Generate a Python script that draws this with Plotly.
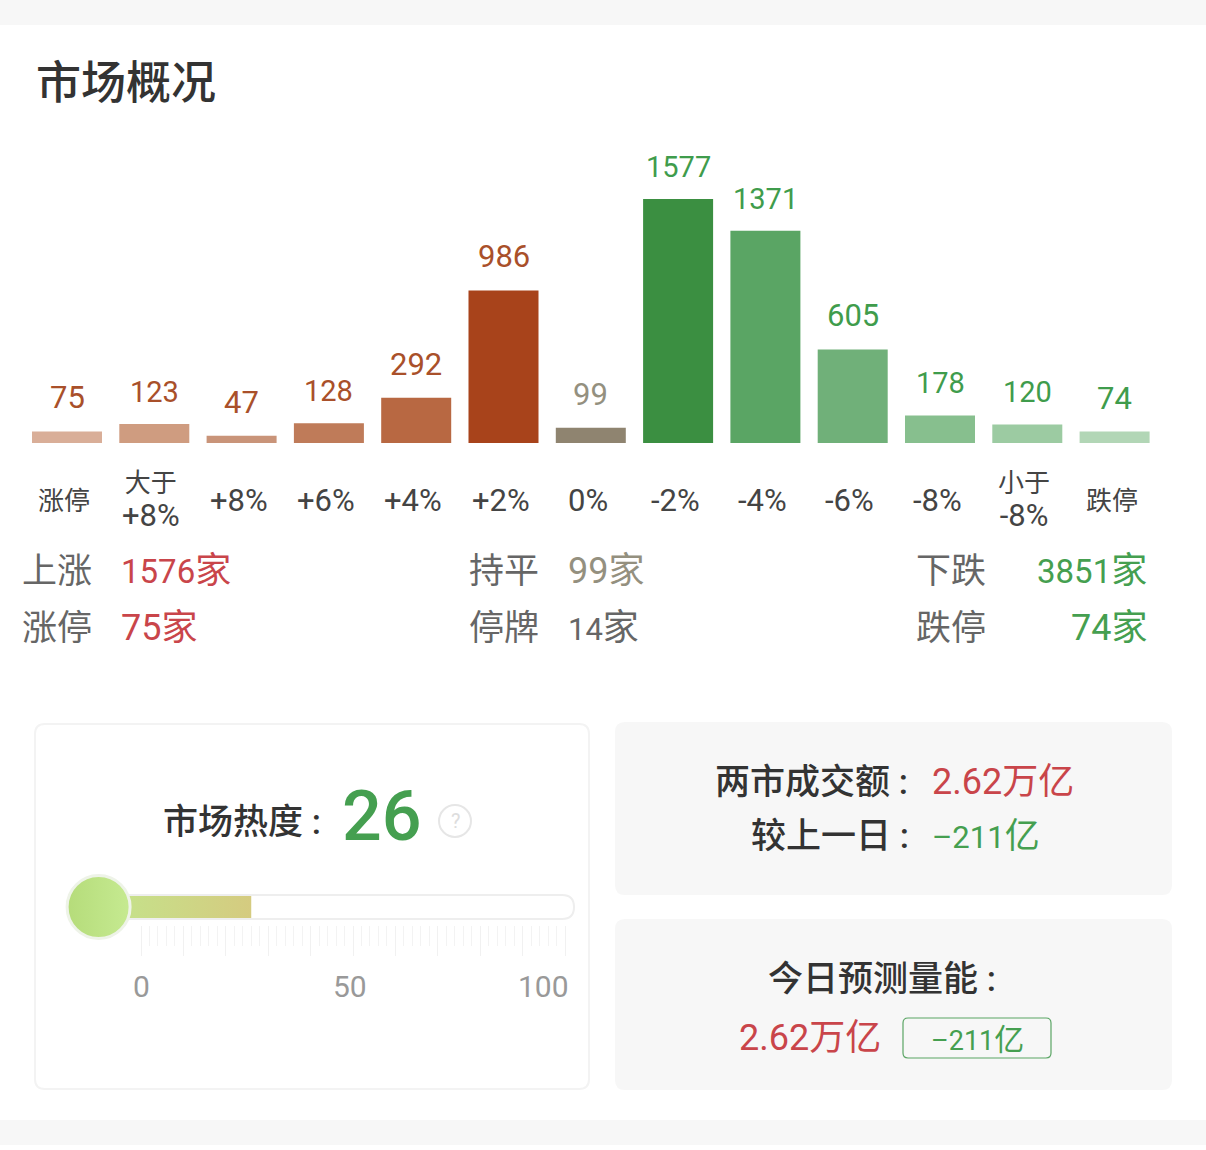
import plotly.graph_objects as go

W, H = 1206, 1150
FONT = "Roboto, 'Noto Sans CJK SC', sans-serif"

categories = ["涨停", "大于<br>+8%", "+8%", "+6%", "+4%", "+2%", "0%", "-2%", "-4%", "-6%", "-8%", "小于<br>-8%", "跌停"]
counts = [75, 123, 47, 128, 292, 986, 99, 1577, 1371, 605, 178, 120, 74]
bar_colors = ["#d9ae98", "#cf9c80", "#c99479", "#bf7b59", "#b86842", "#a8431b", "#8f8470",
              "#3b8f41", "#5aa564", "#70b079", "#87bf8e", "#9ccba2", "#b2d6b6"]
label_colors = ["#a9502a"] * 6 + ["#94907f"] + ["#3f9c4c"] * 6
heat_value = 26
heat_ticks = list(range(0, 101, 10))
heat_minor = list(range(0, 101, 2))

RED = "#c9454a"
GREEN = "#459f50"
DARK = "#333333"
GREY = "#666666"


def px(x):
    return x / W


def py(y):
    return 1 - y / H


def sized(text, size):
    return f'<span style="font-size:{size}px">{text}</span>'


def tick_html(label):
    parts = label.split("<br>")
    return "<br>".join(sized(p, 31) if p[0] in "+-0123456789" else p for p in parts)


def txt(x, y, text, size, color, anchor="left", weight=None):
    font = dict(family=FONT, size=size, color=color)
    if weight:
        font["weight"] = weight
    return dict(x=px(x), y=py(y), xref="paper", yref="paper", text=text, showarrow=False,
                xanchor=anchor, yanchor="middle", font=font, align="center")


def rrect(x0, y0, x1, y1, r, fill, line=None, lw=1):
    X0, X1, Y0, Y1 = px(x0), px(x1), py(y0), py(y1)
    rx, ry = r / W, r / H
    path = (f"M {X0+rx} {Y0} L {X1-rx} {Y0} Q {X1} {Y0} {X1} {Y0-ry} L {X1} {Y1+ry} Q {X1} {Y1} {X1-rx} {Y1} "
            f"L {X0+rx} {Y1} Q {X0} {Y1} {X0} {Y1+ry} L {X0} {Y0-ry} Q {X0} {Y0} {X0+rx} {Y0} Z")
    return dict(type="path", path=path, xref="paper", yref="paper", fillcolor=fill,
                line=dict(color=line if line else fill, width=lw if line else 0), layer="below")


fig = go.Figure()

fig.add_trace(go.Bar(x=categories, y=counts, marker=dict(color=bar_colors, line=dict(width=0)),
                     xaxis="x", yaxis="y", hoverinfo="skip", cliponaxis=False))

fig.add_trace(go.Scatter(x=[-10, heat_value, heat_value, -10, -10], y=[0, 0, 1, 1, 0], mode="lines",
                         line=dict(width=0), fill="toself",
                         fillgradient=dict(type="horizontal", colorscale=[[0, "#c3e58c"], [1, "#d5cb80"]]),
                         xaxis="x2", yaxis="y2", hoverinfo="skip"))
fig.add_trace(go.Scatter(x=[-10], y=[0.5], mode="markers", cliponaxis=False,
                         marker=dict(size=63, color="#b5dc7a", gradient=dict(type="horizontal", color="#c6ea91"),
                                     line=dict(color="#eef3e8", width=3)),
                         xaxis="x2", yaxis="y2", hoverinfo="skip"))

shapes = [
    dict(type="rect", xref="paper", yref="paper", x0=0, x1=1, y0=py(25), y1=1, fillcolor="#f7f7f7", line_width=0, layer="below"),
    dict(type="rect", xref="paper", yref="paper", x0=0, x1=1, y0=py(1145), y1=py(1120), fillcolor="#f7f7f7", line_width=0, layer="below"),
    rrect(35, 724, 589, 1089, 10, "#ffffff", "#f3f3f3", 2),
    rrect(615, 722, 1172, 895, 10, "#f7f7f7"),
    rrect(615, 919, 1172, 1090, 10, "#f7f7f7"),
    rrect(903, 1018, 1051, 1058, 5, "rgba(0,0,0,0)", "#5aa564", 1.2),
    rrect(110, 895, 574, 919, 12, "#ffffff", "#eeeeee", 2),
    dict(type="circle", xref="paper", yref="paper", x0=px(439), x1=px(471), y0=py(837), y1=py(805),
         fillcolor="rgba(0,0,0,0)", line=dict(color="#e6e6e6", width=2), layer="below"),
]

annotations = [txt(34, 84, "市场概况", 45, DARK, weight=500)]

for c, v, col in zip(categories, counts, label_colors):
    annotations.append(dict(x=c, y=v, xref="x", yref="y", text=str(v), showarrow=False, yanchor="bottom",
                            yshift=13, font=dict(family=FONT, size=29 if "1" in str(v) else 31, color=col)))
    annotations.append(dict(x=c, y=py(501), xref="x", yref="paper", text=tick_html(c), showarrow=False,
                            yanchor="middle", xshift=-3, align="center",
                            font=dict(family=FONT, size=26, color="#444444")))

annotations += [
    txt(20, 571, "上涨", 35, GREY), txt(119, 571, sized("1576", 33) + "家", 36, RED),
    txt(20, 628, "涨停", 35, GREY), txt(119, 628, "75家", 36, RED),
    txt(467, 571, "持平", 35, GREY), txt(566, 571, "99家", 36, "#94907f"),
    txt(467, 628, "停牌", 35, GREY), txt(566, 628, sized("14", 31) + "家", 36, GREY),
    txt(914, 571, "下跌", 35, GREY), txt(1149, 571, sized("3851", 33) + "家", 36, GREEN, "right"),
    txt(914, 628, "跌停", 35, GREY), txt(1149, 628, "74家", 36, GREEN, "right"),
    txt(161, 822, "市场热度 :", 35, DARK, weight=500),
    txt(382, 816, str(heat_value), 70, GREEN, "center", weight=500),
    txt(455, 821, "?", 20, "#dddddd", "center"),
    txt(713, 782, "两市成交额 :", 35, DARK, weight=500),
    txt(930, 782, "2.62万亿", 36, RED),
    txt(749, 836, "较上一日 :", 35, DARK, weight=500),
    txt(930, 836, sized("–211", 31) + "亿", 35, GREEN),
    txt(766, 979, "今日预测量能 :", 35, DARK, weight=500),
    txt(737, 1038, "2.62万亿", 36, RED),
    txt(977, 1039, sized("–211", 27) + "亿", 30, GREEN, "center"),
]
for v, anchor, shift in [(0, "center", 0), (50, "center", -3), (100, "right", 6)]:
    annotations.append(dict(x=v, y=py(986), xref="x2", yref="paper", text=str(v), showarrow=False,
                            xanchor=anchor, yanchor="middle", xshift=shift,
                            font=dict(family=FONT, size=30, color="#999999")))

fig.update_layout(
    width=W, height=H, margin=dict(l=0, r=0, t=0, b=0, pad=0, autoexpand=False),
    paper_bgcolor="#ffffff", plot_bgcolor="rgba(0,0,0,0)", showlegend=False,
    bargap=1 - 70 / 87.3, font=dict(family=FONT), shapes=shapes, annotations=annotations,
    xaxis=dict(domain=[px(23.35), px(1158.25)], range=[-0.5, 12.5], type="category",
               categoryorder="array", categoryarray=categories,
               showticklabels=False, showgrid=False, zeroline=False, showline=False, ticks=""),
    yaxis=dict(domain=[py(443), py(199)], range=[0, 1577], visible=False, showgrid=False, zeroline=False),
    xaxis2=dict(domain=[px(98.6), px(565)], range=[-10, 100], anchor="free", position=py(925),
                tickmode="array", tickvals=heat_ticks, showticklabels=False,
                ticks="outside", ticklen=30, tickcolor="#f1f1f1", tickwidth=1.2,
                minor=dict(tickmode="array", tickvals=heat_minor, ticks="outside", ticklen=20,
                           tickcolor="#f3f3f3", tickwidth=1, showgrid=False),
                showgrid=False, zeroline=False, showline=False),
    yaxis2=dict(domain=[py(918), py(896)], range=[0, 1], visible=False, showgrid=False, zeroline=False),
)

fig.write_html("out.html", config=dict(displayModeBar=False),
               post_script="document.body.style.margin='0';document.body.style.overflow='hidden';")
